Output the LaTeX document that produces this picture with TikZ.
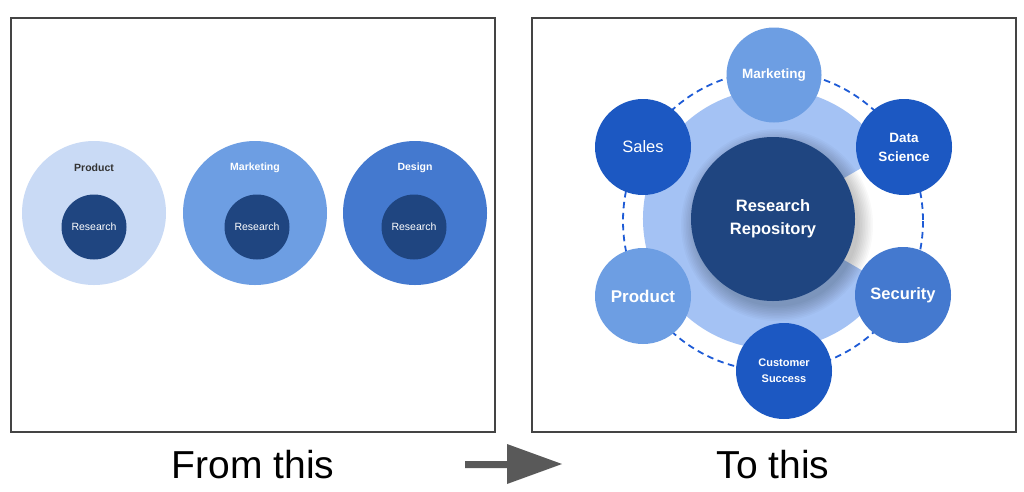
\documentclass[tikz,border=0pt]{standalone}
\usepackage{fontspec}
\setmainfont{Liberation Sans}
\usetikzlibrary{calc}
\definecolor{boxline}{HTML}{444444}
\definecolor{lightA}{HTML}{C9DAF5}
\definecolor{midA}{HTML}{6D9EE3}
\definecolor{deepA}{HTML}{4479CF}
\definecolor{darkA}{HTML}{1F4580}
\definecolor{royal}{HTML}{1C58C2}
\definecolor{ringA}{HTML}{A4C2F4}
\definecolor{dashA}{HTML}{1E5BD6}
\definecolor{arrowgray}{HTML}{595959}
\tikzset{
  frame/.style={draw=boxline, line width=1.3pt},
  bubble/.style={circle, inner sep=0pt, text=white, align=center},
}
\begin{document}
\begin{tikzpicture}[x=1pt,y=-1pt]
\useasboundingbox[fill=white] (0,0) rectangle (1024,491);
% frames
\draw[frame] (11,18) rectangle (495,432);
\draw[frame] (532,18) rectangle (1016,432);
% left side
\node[bubble, fill=lightA, minimum size=144pt] (pOut) at (94,213) {};
\node[bubble, fill=midA, minimum size=144pt] (mOut) at (255,213) {};
\node[bubble, fill=deepA, minimum size=144pt] (dOut) at (415,213) {};
\node[font=\bfseries\fontsize{10.5}{12}\selectfont, text=black!80] (pLab) at (94,168) {Product};
\node[font=\bfseries\fontsize{10.5}{12}\selectfont, text=white] (mLab) at (255,168) {Marketing};
\node[font=\bfseries\fontsize{10.5}{12}\selectfont, text=white] (dLab) at (415,168) {Design};
\node[bubble, fill=darkA, minimum size=65pt, font=\fontsize{10.5}{12}\selectfont] (pIn) at (94,227) {Research};
\node[bubble, fill=darkA, minimum size=65pt, font=\fontsize{10.5}{12}\selectfont] (mIn) at (257,227) {Research};
\node[bubble, fill=darkA, minimum size=65pt, font=\fontsize{10.5}{12}\selectfont] (dIn) at (414,227) {Research};
% right side
\coordinate (c) at (773,219);
\fill[ringA] (c) -- ++(30:130) arc[start angle=30, end angle=330, radius=130] -- cycle;
\draw[dashA, line width=1.8pt, dash pattern=on 6.5pt off 4.5pt] (773,221) circle[radius=150];
\foreach \i in {1,...,10} {
  \fill[black, opacity=0.025] ($(c)+(4,6)$) circle[radius=80+\i*1.6];
}
\node[bubble, fill=darkA, minimum size=164pt, font=\bfseries\fontsize{16.5}{23}\selectfont] (repo) at (c) {Research\\Repository};
\node[bubble, fill=midA, minimum size=95pt, font=\bfseries\fontsize{13.5}{16}\selectfont] (mk) at (774,75) {Marketing};
\node[bubble, fill=royal, minimum size=96pt, font=\fontsize{16.5}{20}\selectfont] (sa) at (643,147) {Sales};
\node[bubble, fill=royal, minimum size=96pt, font=\bfseries\fontsize{13.5}{19}\selectfont] (ds) at (904,147) {Data\\Science};
\node[bubble, fill=midA, minimum size=96pt, font=\bfseries\fontsize{17}{20}\selectfont] (pr) at (643,296) {Product};
\node[bubble, fill=deepA, minimum size=96pt, font=\bfseries\fontsize{16.5}{20}\selectfont] (se) at (903,295) {Security};
\node[bubble, fill=royal, minimum size=96pt, font=\bfseries\fontsize{11}{16}\selectfont] (cs) at (784,371) {Customer\\Success};
% captions
\node[font=\fontsize{39}{44}\selectfont] (from) at (253,465) {From this};
\node[font=\fontsize{39}{44}\selectfont] (to) at (773,465) {To this};
% block arrow
\fill[arrowgray] (465,461) -- (507,461) -- (507,444) -- (562,464) -- (507,484) -- (507,468) -- (465,468) -- cycle;
\end{tikzpicture}
\end{document}
